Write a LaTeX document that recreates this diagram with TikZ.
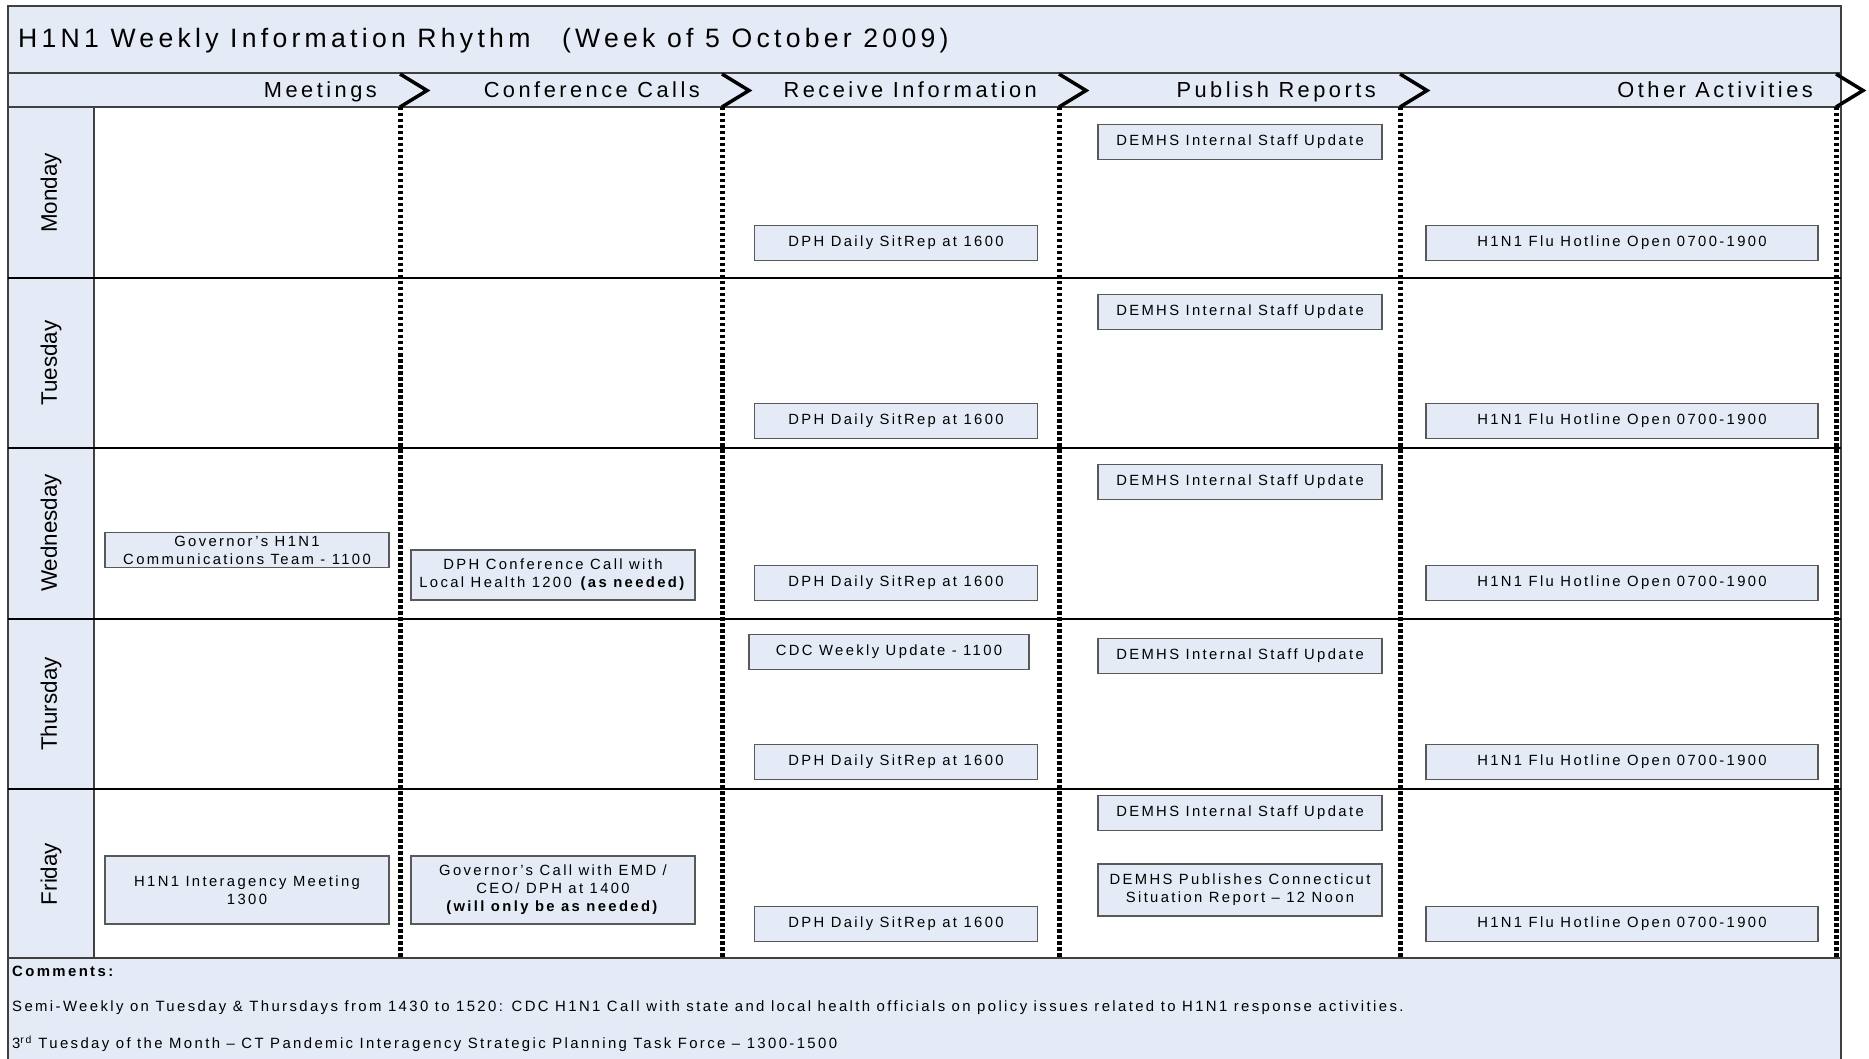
\documentclass[tikz,border=0pt]{standalone}
\usepackage{fontspec}
\setmainfont{Liberation Sans}
\newfontfamily\spacedfont[LetterSpace=16]{Liberation Sans}
\definecolor{paleblue}{RGB}{229,235,246}

\begin{document}
\begin{tikzpicture}[x=1pt, y=-1pt,
    framebox/.style={draw=black!75, line width=1.5pt},
    rowline/.style={draw=black, line width=1.5pt},
    divider/.style={line width=5pt, dash pattern=on 3.5pt off 2.5pt},
    chevron/.style={line width=3.5pt, line join=miter},
    headlabel/.style={font=\spacedfont\fontsize{21.8}{26}\selectfont, anchor=base east, inner sep=0pt},
    daylabel/.style={font=\fontsize{22.4}{27}\selectfont, rotate=90, inner sep=0pt},
    entry/.style={draw=black!65, fill=paleblue, line width=1.2pt, inner sep=0pt, align=center,
        minimum height=35pt, text=black, font=\spacedfont\fontsize{14.8}{18}\selectfont},
    note/.style={font=\spacedfont\fontsize{14.9}{18}\selectfont, anchor=west, inner sep=0pt}]
    \useasboundingbox (0,0) rectangle (1869,1059);
    \clip (0,0) rectangle (1869,1059);

    % frame, title band and header band
    \fill[paleblue] (8,6) rectangle (1841,1075);
    \fill[white] (94,107) rectangle (1841,958);
    \draw[framebox] (8,1075) -- (8,6) -- (1841,6) -- (1841,1075);
    \draw[framebox] (8,73) -- (1841,73);
    \draw[framebox] (8,107) -- (1841,107);
    \draw[framebox] (8,958) -- (1841,958);
    \draw[framebox] (94,107) -- (94,958);
    \node[anchor=base west, inner sep=0pt, font=\spacedfont\fontsize{26.6}{31}\selectfont] (title) at (18,48)
        {H1N1 Weekly Information Rhythm \hspace{20pt}(Week of 5 October 2009)};

    % day rows
    \draw[rowline] (8,278) -- (1841,278);
    \draw[rowline] (8,448) -- (1841,448);
    \draw[rowline] (8,619) -- (1841,619);
    \draw[rowline] (8,789) -- (1841,789);
    \node[daylabel] (mon) at (51,193) {Monday};
    \node[daylabel] (tue) at (51,363) {Tuesday};
    \node[daylabel] (wed) at (51,533) {Wednesday};
    \node[daylabel] (thu) at (51,704) {Thursday};
    \node[daylabel] (fri) at (51,874) {Friday};

    % column dividers with their chevrons
    \draw[divider] (400,107) -- (400,958);
    \draw[divider] (722,107) -- (722,958);
    \draw[divider] (1059,107) -- (1059,958);
    \draw[divider] (1400,107) -- (1400,958);
    \draw[divider] (1836,107) -- (1836,958);
    \draw[chevron] (400,74) -- (427,90.5) -- (400,107);
    \draw[chevron] (722,74) -- (749,90.5) -- (722,107);
    \draw[chevron] (1059,74) -- (1086,90.5) -- (1059,107);
    \draw[chevron] (1400,74) -- (1427,90.5) -- (1400,107);
    \draw[chevron] (1836,74) -- (1863,90.5) -- (1836,107);
    \node[headlabel] (meetings) at (377,98) {Meetings};
    \node[headlabel] (confcalls) at (700,98) {Conference Calls};
    \node[headlabel] (receive) at (1037,98) {Receive Information};
    \node[headlabel] (publish) at (1376,98) {Publish Reports};
    \node[headlabel] (other) at (1813,98) {Other Activities};

    % Monday
    \node[entry, minimum width=284pt] (mon-demhs) at (1240,142) {DEMHS Internal Staff Update};
    \node[entry, minimum width=283pt] (mon-sitrep) at (896,243) {DPH Daily SitRep at 1600};
    \node[entry, minimum width=392pt] (mon-hotline) at (1622,243) {H1N1 Flu Hotline Open 0700-1900};
    % Tuesday
    \node[entry, minimum width=284pt] (tue-demhs) at (1240,312) {DEMHS Internal Staff Update};
    \node[entry, minimum width=283pt] (tue-sitrep) at (896,421) {DPH Daily SitRep at 1600};
    \node[entry, minimum width=392pt] (tue-hotline) at (1622,421) {H1N1 Flu Hotline Open 0700-1900};
    % Wednesday
    \node[entry, minimum width=284pt] (wed-team) at (247,550) {Governor’s H1N1\\Communications Team - 1100};
    \node[entry, minimum width=284pt, minimum height=50pt] (wed-call) at (553,575)
        {DPH Conference Call with\\Local Health 1200 \textbf{(as needed)}};
    \node[entry, minimum width=284pt] (wed-demhs) at (1240,482) {DEMHS Internal Staff Update};
    \node[entry, minimum width=283pt] (wed-sitrep) at (896,583) {DPH Daily SitRep at 1600};
    \node[entry, minimum width=392pt] (wed-hotline) at (1622,583) {H1N1 Flu Hotline Open 0700-1900};
    % Thursday
    \node[entry, minimum width=280pt] (thu-cdc) at (889,652) {CDC Weekly Update - 1100};
    \node[entry, minimum width=284pt] (thu-demhs) at (1240,656) {DEMHS Internal Staff Update};
    \node[entry, minimum width=283pt] (thu-sitrep) at (896,762) {DPH Daily SitRep at 1600};
    \node[entry, minimum width=392pt] (thu-hotline) at (1622,762) {H1N1 Flu Hotline Open 0700-1900};
    % Friday
    \node[entry, minimum width=284pt, minimum height=68pt] (fri-meeting) at (247,890) {H1N1 Interagency Meeting\\1300};
    \node[entry, minimum width=284pt, minimum height=68pt] (fri-call) at (553,890)
        {Governor’s Call with EMD /\\CEO/ DPH at 1400\\\textbf{(will only be as needed)}};
    \node[entry, minimum width=284pt] (fri-demhs) at (1240,813) {DEMHS Internal Staff Update};
    \node[entry, minimum width=284pt, minimum height=52pt] (fri-sitrep-ct) at (1240,890)
        {DEMHS Publishes Connecticut\\Situation Report – 12 Noon};
    \node[entry, minimum width=283pt] (fri-sitrep) at (896,924) {DPH Daily SitRep at 1600};
    \node[entry, minimum width=392pt] (fri-hotline) at (1622,924) {H1N1 Flu Hotline Open 0700-1900};

    % comments
    \node[note] (comments) at (12,971) {\textbf{Comments:}};
    \node[note] (semiweekly) at (12,1008)
        {Semi-Weekly on Tuesday \& Thursdays from 1430 to 1520: CDC H1N1 Call with state and local health officials on policy issues related to H1N1 response activities.};
    \node[note] (taskforce) at (12,1044)
        {3\textsuperscript{rd} Tuesday of the Month – CT Pandemic Interagency Strategic Planning Task Force – 1300-1500};
\end{tikzpicture}
\end{document}
